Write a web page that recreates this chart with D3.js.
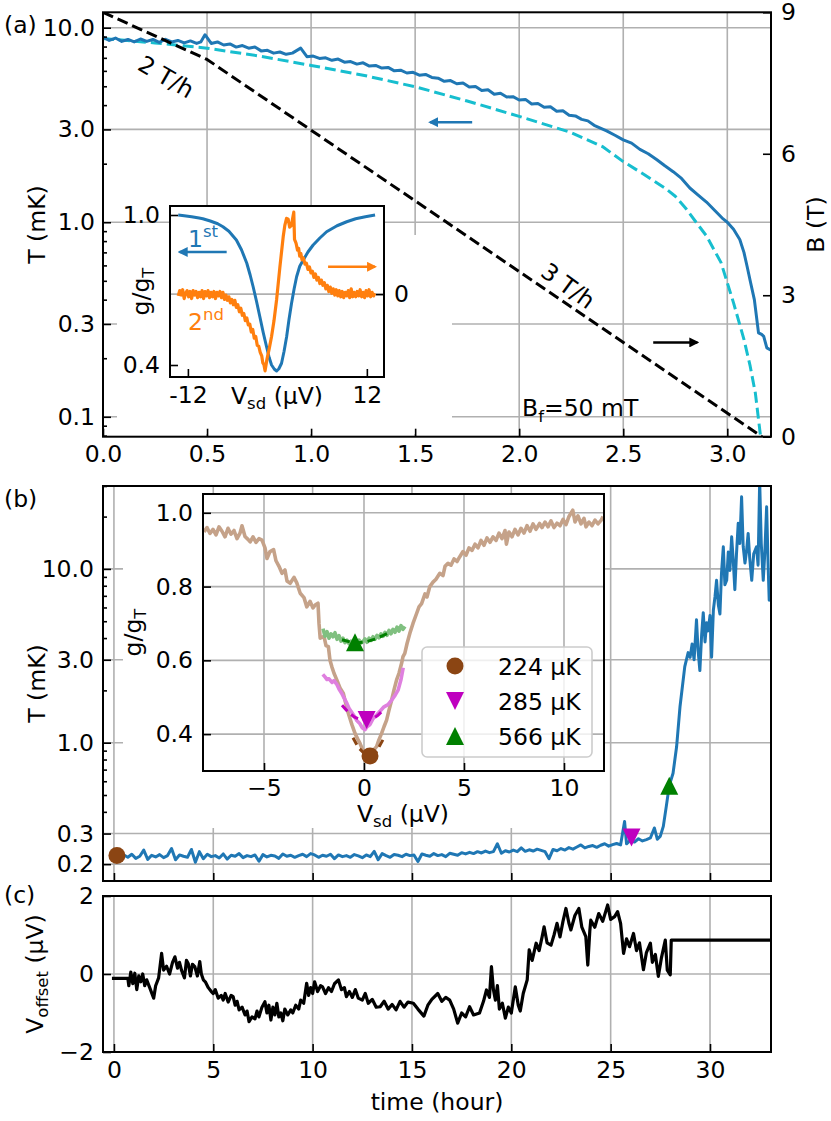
<!DOCTYPE html>
<html>
<head>
<meta charset="utf-8">
<script src="https://cdn.jsdelivr.net/npm/d3@7"></script>
<style>
  body { margin: 0; background: #fff; }
  text { font-family: "DejaVu Sans", sans-serif; }
</style>
</head>
<body>
<div id="figure"></div>
<script>
// ---------- data: panel (a), demagnetisation sweep ----------
const sweepData = [[0,8.95],[0.03,8.6],[0.06,8.85],[0.09,8.5],[0.12,8.7],[0.15,8.45],[0.18,8.75],[0.21,8.5],
  [0.24,8.7],[0.27,8.4],[0.3,8.72],[0.33,8.45],[0.36,8.6],[0.39,8.35],[0.42,8.55],[0.45,8.3],[0.47,8.45],
  [0.49,9.2],[0.52,8.3],[0.55,8.45],[0.58,8.15],[0.61,8.25],[0.64,7.95],[0.67,8.1],[0.7,7.85],[0.73,7.95],
  [0.76,7.6],[0.79,7.65],[0.82,7.4],[0.85,7.5],[0.88,7.3],[0.91,7.4],[0.95,7.85],[0.98,7.1],[1.01,7.15],
  [1.04,6.95],[1.07,7.0],[1.1,6.8],[1.13,6.9],[1.16,6.65],[1.19,6.7],[1.22,6.5],[1.25,6.6],[1.28,6.35],
  [1.31,6.4],[1.34,6.2],[1.37,6.25],[1.4,6.0],[1.43,6.05],[1.46,5.85],[1.49,5.9],[1.52,5.7],[1.55,5.75],
  [1.58,5.55],[1.61,5.5],[1.64,5.3],[1.67,5.35],[1.7,5.15],[1.73,5.2],[1.76,4.95],[1.79,4.98],[1.82,4.75],
  [1.85,4.8],[1.88,4.55],[1.91,4.6],[1.94,4.4],[1.97,4.42],[2.0,4.25],[2.03,4.28],[2.06,4.05],[2.09,4.08],
  [2.12,3.9],[2.15,3.92],[2.18,3.72],[2.21,3.74],[2.24,3.55],[2.27,3.52],[2.3,3.38],[2.33,3.32],[2.36,3.15],
  [2.39,3.05],[2.42,2.95],[2.46,2.8],[2.5,2.65],[2.54,2.55],[2.58,2.37],[2.62,2.25],[2.66,2.1],[2.7,1.95],
  [2.74,1.82],[2.78,1.68],[2.82,1.5],[2.86,1.38],[2.9,1.27],[2.94,1.15],[2.98,1.04],[3.0,1.0],[3.03,0.92],
  [3.06,0.815],[3.08,0.7],[3.095,0.594],[3.11,0.5],[3.13,0.40],[3.15,0.27],[3.165,0.265],[3.175,0.259],
  [3.19,0.226],[3.21,0.22]];
const modelData = [[0,8.8],[0.25,8.35],[0.5,7.85],[0.75,7.15],[1.0,6.4],[1.25,5.7],[1.5,4.97],[1.75,4.2],
  [2.0,3.5],[2.25,2.89],[2.4,2.45],[2.5,2.05],[2.6,1.76],[2.7,1.5],[2.75,1.36],[2.8,1.18],[2.85,1.0],
  [2.9,0.85],[2.97,0.62],[3.03,0.385],[3.08,0.25],[3.11,0.182],[3.135,0.132],[3.15,0.097],[3.16,0.079]];
const rampData = [[0,9],[0.5,8],[3.167,0]];

// inset (a): first and second derivative of the dip
const dipData = [[-13.3,1.0],[-12.5,0.997],[-11.5,0.993],[-10.5,0.988],[-10.0,0.985],[-9.0,0.976],[-8.0,0.965],
  [-7.3,0.953],[-6.5,0.935],[-5.5,0.90],[-4.8,0.86],[-4.1,0.807],[-3.65,0.76],[-3.25,0.713],[-2.8,0.655],
  [-2.35,0.593],[-1.9,0.53],[-1.45,0.473],[-1.1,0.43],[-0.78,0.40],[-0.4,0.383],[-0.1,0.376],[0.2,0.385],
  [0.56,0.407],[0.9,0.455],[1.24,0.513],[1.55,0.58],[1.9,0.647],[2.25,0.705],[2.58,0.753],[3.0,0.795],
  [3.47,0.82],[4.1,0.852],[4.8,0.88],[5.7,0.908],[6.6,0.933],[8.0,0.957],[9.3,0.973],[10.5,0.985],
  [11.8,0.993],[13.1,1.0]];
const d2Data = [[-13.3,-0.02],[-13.1,0.04],[-12.9,-0.01],[-12.7,0.05],[-12.5,-0.05],[-12.3,0.01],[-12.1,0.04],
  [-11.9,-0.03],[-11.7,0.03],[-11.5,-0.05],[-11.3,0.04],[-11.1,-0.01],[-10.9,0.03],[-10.7,-0.04],[-10.5,0.02],
  [-10.3,-0.03],[-10.1,0.04],[-9.9,-0.05],[-9.7,0.03],[-9.5,-0.02],[-9.3,0.04],[-9.1,-0.04],[-8.9,0.02],
  [-8.7,-0.03],[-8.5,0.03],[-8.3,-0.05],[-8.1,0.02],[-7.9,-0.02],[-7.7,0.03],[-7.5,-0.04],[-7.3,0.02],
  [-7.1,-0.06],[-6.9,-0.01],[-6.7,-0.07],[-6.5,-0.03],[-6.3,-0.10],[-6.1,-0.06],[-5.9,-0.12],[-5.7,-0.07],
  [-5.5,-0.15],[-5.3,-0.12],[-5.1,-0.20],[-4.9,-0.16],[-4.7,-0.24],[-4.5,-0.22],[-4.3,-0.30],[-4.1,-0.27],
  [-3.9,-0.35],[-3.7,-0.34],[-3.5,-0.43],[-3.3,-0.40],[-3.1,-0.50],[-2.9,-0.48],[-2.7,-0.58],[-2.5,-0.59],
  [-2.3,-0.66],[-2.1,-0.70],[-1.95,-0.78],[-1.8,-0.80],[-1.65,-0.87],[-1.4,-0.74],[-1.1,-0.62],[-0.78,-0.48],
  [-0.45,-0.30],[-0.1,-0.06],[0.34,0.31],[0.78,0.65],[1.0,0.78],[1.23,0.86],[1.45,0.85],[1.65,0.76],
  [1.9,0.78],[2.05,0.86],[2.2,0.93],[2.3,0.62],[2.5,0.58],[2.7,0.50],[2.85,0.52],[3.0,0.43],[3.15,0.46],
  [3.3,0.39],[3.5,0.41],[3.7,0.34],[3.9,0.35],[4.1,0.28],[4.3,0.31],[4.5,0.24],[4.7,0.26],[4.9,0.19],
  [5.1,0.23],[5.3,0.16],[5.5,0.19],[5.7,0.12],[5.9,0.16],[6.1,0.10],[6.3,0.13],[6.5,0.06],[6.7,0.10],
  [6.9,0.03],[7.1,0.08],[7.3,0.01],[7.5,0.06],[7.7,-0.01],[7.9,0.05],[8.1,-0.02],[8.3,0.04],[8.5,-0.03],
  [8.7,0.03],[8.9,-0.04],[9.1,0.02],[9.3,-0.02],[9.5,0.04],[9.7,-0.04],[9.9,0.06],[10.1,-0.03],[10.3,0.02],
  [10.5,-0.03],[10.7,0.03],[10.9,-0.02],[11.1,0.05],[11.3,-0.03],[11.5,0.02],[11.7,-0.04],[11.9,0.04],
  [12.1,-0.02],[12.3,0.05],[12.5,-0.03],[12.7,0.02],[12.9,-0.02],[13.1,0.01]];

// ---------- data: panel (b), temperature during the hold ----------
const holdData = [[0.1,0.224],[0.3,0.221],[0.5,0.226],[0.7,0.219],[0.9,0.228],[1.1,0.216],[1.3,0.222],
  [1.5,0.241],[1.7,0.213],[1.9,0.225],[2.1,0.220],[2.3,0.227],[2.5,0.218],[2.7,0.224],[2.9,0.246],[3.1,0.212],
  [3.3,0.226],[3.5,0.222],[3.7,0.219],[3.9,0.243],[4.1,0.205],[4.3,0.236],[4.5,0.215],[4.7,0.228],[4.9,0.221],
  [5.1,0.224],[5.3,0.217],[5.5,0.229],[5.7,0.214],[5.9,0.225],[6.1,0.222],[6.3,0.230],[6.5,0.218],[6.7,0.224],
  [6.9,0.221],[7.1,0.226],[7.3,0.208],[7.5,0.227],[7.7,0.220],[7.9,0.225],[8.1,0.223],[8.3,0.216],[8.5,0.229],
  [8.7,0.222],[8.9,0.225],[9.1,0.219],[9.3,0.224],[9.5,0.228],[9.7,0.221],[9.9,0.230],[10.1,0.226],[10.3,0.219],
  [10.5,0.225],[10.7,0.222],[10.9,0.228],[11.1,0.215],[11.3,0.226],[11.5,0.221],[11.7,0.224],[11.9,0.219],
  [12.1,0.227],[12.3,0.223],[12.5,0.218],[12.7,0.226],[12.9,0.221],[13.1,0.237],[13.3,0.212],[13.5,0.230],
  [13.7,0.224],[13.9,0.219],[14.1,0.227],[14.3,0.225],[14.5,0.221],[14.7,0.228],[14.9,0.224],[15.1,0.226],
  [15.3,0.207],[15.5,0.229],[15.7,0.225],[15.9,0.222],[16.1,0.230],[16.3,0.224],[16.5,0.227],[16.7,0.221],
  [16.9,0.231],[17.1,0.228],[17.3,0.225],[17.5,0.233],[17.7,0.229],[17.9,0.234],[18.1,0.230],[18.3,0.236],
  [18.5,0.232],[18.7,0.238],[18.9,0.233],[19.1,0.236],[19.3,0.262],[19.5,0.231],[19.7,0.239],[19.9,0.235],
  [20.1,0.241],[20.3,0.236],[20.5,0.248],[20.7,0.237],[20.9,0.242],[21.1,0.238],[21.3,0.244],[21.5,0.240],
  [21.7,0.236],[21.9,0.215],[22.1,0.243],[22.3,0.239],[22.5,0.246],[22.7,0.241],[22.9,0.249],[23.1,0.244],
  [23.3,0.251],[23.5,0.258],[23.7,0.248],[23.9,0.253],[24.1,0.256],[24.3,0.250],[24.5,0.257],[24.7,0.262],
  [24.9,0.254],[25.1,0.259],[25.3,0.263],[25.5,0.258],[25.7,0.352],[25.8,0.262],[26.0,0.275],[26.2,0.268],
  [26.4,0.280],[26.6,0.272],[26.8,0.277],[27.0,0.283],[27.2,0.323],[27.35,0.278],[27.5,0.290],[27.65,0.330],
  [27.8,0.43],[27.95,0.566],[28.14,0.667],[28.32,0.95],[28.49,1.61],[28.73,2.74],[28.9,3.3],[29.0,3.1],
  [29.1,3.7],[29.2,3.0],[29.32,5.1],[29.4,3.4],[29.49,2.6],[29.58,4.2],[29.66,5.6],[29.75,3.8],[29.83,4.9],
  [29.91,4.4],[30.0,5.4],[30.08,3.1],[30.17,5.8],[30.25,6.9],[30.33,8.6],[30.42,6.2],[30.5,5.5],[30.58,9.5],
  [30.67,13.4],[30.75,8.1],[30.84,8.6],[30.92,12.5],[31.0,9.8],[31.09,15.3],[31.17,11.2],[31.25,7.6],
  [31.33,12.0],[31.42,18.3],[31.5,14.0],[31.59,26.0],[31.67,13.5],[31.76,10.8],[31.84,12.7],[31.92,16.0],
  [32.0,11.5],[32.1,8.6],[32.2,12.2],[32.34,13.4],[32.42,10.5],[32.5,32],[32.58,14.0],[32.68,8.6],
  [32.76,12.5],[32.85,22.8],[32.92,11.0],[32.98,6.6],[33.05,9.0]];
const markerTime = [0.15, 26.05, 27.95];
const markerT = [0.224, 0.285, 0.566];
const legendLabels = ["224 µK", "285 µK", "566 µK"];

// inset (b): conductance dips at the three temperatures
const brownTrace = [[-8.0,0.948],[-7.85,0.960],[-7.7,0.944],[-7.55,0.955],[-7.4,0.940],[-7.25,0.962],[-7.1,0.950],
  [-6.95,0.935],[-6.8,0.958],[-6.65,0.942],[-6.5,0.952],[-6.35,0.930],[-6.2,0.945],[-6.1,0.965],[-5.95,0.936],
  [-5.8,0.928],[-5.69,0.921],[-5.55,0.935],[-5.4,0.920],[-5.25,0.930],[-5.1,0.926],[-4.95,0.905],[-4.85,0.876],
  [-4.7,0.895],[-4.52,0.90],[-4.4,0.870],[-4.25,0.855],[-4.1,0.836],[-3.95,0.845],[-3.85,0.815],[-3.69,0.809],
  [-3.5,0.825],[-3.36,0.810],[-3.19,0.782],[-3.0,0.770],[-2.86,0.745],[-2.7,0.760],[-2.55,0.742],[-2.44,0.750],
  [-2.3,0.755],[-2.25,0.700],[-2.19,0.660],[-2.0,0.665],[-1.9,0.640],[-1.78,0.637],[-1.7,0.600],[-1.61,0.583],
  [-1.5,0.565],[-1.36,0.547],[-1.2,0.525],[-1.03,0.51],[-0.9,0.480],[-0.78,0.456],[-0.6,0.425],[-0.45,0.402],
  [-0.3,0.385],[-0.2,0.375],[-0.05,0.355],[0.1,0.348],[0.3,0.345],[0.45,0.355],[0.63,0.366],[0.75,0.385],
  [0.88,0.402],[1.0,0.420],[1.13,0.438],[1.25,0.465],[1.38,0.492],[1.5,0.520],[1.63,0.547],[1.75,0.565],
  [1.88,0.592],[1.95,0.610],[2.04,0.619],[2.15,0.645],[2.29,0.673],[2.45,0.700],[2.63,0.727],[2.75,0.745],
  [2.88,0.754],[3.05,0.780],[3.15,0.772],[3.29,0.800],[3.45,0.812],[3.6,0.820],[3.79,0.836],[3.95,0.830],
  [4.05,0.855],[4.2,0.863],[4.35,0.858],[4.5,0.875],[4.65,0.868],[4.79,0.881],[4.95,0.895],[5.1,0.885],
  [5.25,0.905],[5.4,0.898],[5.55,0.915],[5.7,0.905],[5.85,0.925],[6.0,0.912],[6.15,0.932],[6.3,0.920],
  [6.45,0.935],[6.6,0.925],[6.75,0.945],[6.9,0.930],[7.05,0.952],[7.12,0.915],[7.25,0.948],[7.4,0.935],
  [7.55,0.955],[7.7,0.940],[7.85,0.958],[8.0,0.945],[8.15,0.965],[8.3,0.950],[8.45,0.970],[8.6,0.955],
  [8.78,0.971],[8.9,0.960],[9.05,0.975],[9.2,0.962],[9.35,0.978],[9.5,0.960],[9.65,0.972],[9.8,0.965],
  [9.95,0.982],[10.1,0.968],[10.25,0.990],[10.44,1.007],[10.55,0.975],[10.7,0.992],[10.85,0.970],[11.0,0.985],
  [11.1,0.962],[11.25,0.975],[11.4,0.965],[11.55,0.980],[11.7,0.970],[11.86,0.980],[11.95,0.990]];
const magentaTrace = [[-2.06,0.562],[-1.95,0.555],[-1.85,0.548],[-1.75,0.550],[-1.6,0.540],[-1.5,0.545],
  [-1.36,0.535],[-1.25,0.522],[-1.11,0.510],[-1.0,0.498],[-0.86,0.484],[-0.75,0.470],[-0.6,0.458],[-0.5,0.450],
  [-0.35,0.436],[-0.2,0.428],[-0.1,0.418],[0.05,0.412],[0.15,0.420],[0.3,0.426],[0.45,0.442],[0.63,0.452],
  [0.8,0.462],[1.0,0.474],[1.2,0.480],[1.38,0.492],[1.55,0.505],[1.71,0.520],[1.85,0.548],[1.96,0.580]];
const greenTrace = [[-2.05,0.686],[-1.95,0.665],[-1.85,0.678],[-1.75,0.660],[-1.65,0.672],[-1.55,0.664],
  [-1.45,0.675],[-1.35,0.657],[-1.25,0.667],[-1.15,0.652],[-1.05,0.660],[-0.95,0.648],[-0.85,0.655],
  [-0.75,0.645],[-0.65,0.652],[-0.55,0.643],[-0.45,0.650],[-0.35,0.646],[-0.25,0.655],[-0.15,0.647],
  [-0.05,0.651],[0.05,0.658],[0.15,0.649],[0.25,0.660],[0.35,0.654],[0.45,0.664],[0.55,0.657],[0.65,0.668],
  [0.75,0.661],[0.85,0.672],[0.95,0.665],[1.05,0.676],[1.15,0.668],[1.25,0.681],[1.35,0.672],[1.45,0.684],
  [1.55,0.676],[1.65,0.690],[1.75,0.679],[1.85,0.694],[1.95,0.684],[2.05,0.692]];
const brownFit = [[-0.55,0.39],[-0.3,0.365],[0,0.348],[0.3,0.341],[0.6,0.350],[0.95,0.385]];
const magentaFit = [[-1.1,0.478],[-0.8,0.46],[-0.5,0.447],[-0.2,0.44],[0.13,0.437],[0.45,0.442],[0.7,0.451],[0.95,0.465]];
const greenFit = [[-1.1,0.656],[-0.7,0.650],[-0.3,0.648],[0.1,0.650],[0.5,0.657],[0.9,0.666],[1.2,0.674]];
const fitMarkerV = [0.3, 0.13, -0.45];
const fitMarkerG = [0.341, 0.438, 0.649];

// ---------- data: panel (c), offset voltage ----------
const offsetData = [[-0.1,-0.11],[0.7,-0.11],[0.75,-0.3],[0.85,0.05],[0.95,-0.25],[1.05,0.02],[1.15,-0.4],
  [1.25,-0.05],[1.35,-0.2],[1.45,0.0],[1.55,-0.3],[1.65,-0.15],[1.8,-0.35],[2.0,-0.62],[2.1,-0.3],[2.25,-0.1],
  [2.4,0.53],[2.5,0.1],[2.65,0.2],[2.8,0.0],[2.95,0.3],[3.07,0.44],[3.2,0.15],[3.3,0.3],[3.4,0.1],[3.55,-0.1],
  [3.65,0.35],[3.74,0.27],[3.85,-0.05],[3.95,0.25],[4.07,0.19],[4.2,-0.05],[4.32,0.32],[4.4,0.0],[4.5,-0.15],
  [4.6,-0.2],[4.75,-0.35],[4.9,-0.45],[5.0,-0.5],[5.1,-0.4],[5.25,-0.62],[5.4,-0.55],[5.5,-0.67],[5.6,-0.5],
  [5.75,-0.72],[5.9,-0.55],[6.0,-0.58],[6.1,-0.8],[6.2,-0.7],[6.3,-0.92],[6.45,-0.85],[6.6,-1.05],[6.7,-0.95],
  [6.8,-1.22],[6.95,-1.1],[7.1,-1.15],[7.2,-0.95],[7.3,-1.1],[7.45,-0.85],[7.6,-0.71],[7.7,-1.0],[7.8,-0.8],
  [7.9,-1.18],[8.0,-0.85],[8.1,-1.05],[8.2,-0.75],[8.3,-1.1],[8.4,-1.0],[8.5,-1.2],[8.6,-0.9],[8.75,-1.05],
  [8.9,-0.92],[9.0,-1.0],[9.15,-0.8],[9.3,-0.9],[9.4,-0.67],[9.55,-0.75],[9.7,-0.24],[9.8,-0.55],[9.9,-0.35],
  [10.0,-0.5],[10.1,-0.2],[10.25,-0.45],[10.4,-0.3],[10.5,-0.33],[10.65,-0.5],[10.8,-0.35],[10.95,-0.45],
  [11.1,-0.25],[11.3,-0.15],[11.45,-0.4],[11.6,-0.35],[11.7,-0.58],[11.85,-0.45],[12.0,-0.6],[12.15,-0.4],
  [12.3,-0.62],[12.5,-0.67],[12.65,-0.5],[12.8,-0.75],[13.0,-0.65],[13.2,-0.85],[13.4,-0.84],[13.6,-0.7],
  [13.8,-0.9],[14.0,-0.78],[14.2,-0.92],[14.4,-0.7],[14.6,-0.85],[14.8,-0.72],[15.07,-0.75],[15.3,-0.9],
  [15.6,-1.08],[15.8,-0.8],[16.0,-0.65],[16.3,-0.5],[16.5,-0.7],[16.7,-0.6],[16.9,-0.67],[17.1,-0.9],
  [17.3,-1.26],[17.5,-1.0],[17.7,-1.1],[17.9,-0.84],[18.1,-1.05],[18.4,-1.0],[18.6,-0.7],[18.75,-0.41],
  [18.9,-0.6],[19.0,0.19],[19.1,-0.4],[19.2,-0.67],[19.3,-0.3],[19.4,-0.9],[19.55,-0.75],[19.7,-1.13],
  [19.85,-0.85],[20.0,-1.0],[20.2,-0.33],[20.35,-0.8],[20.45,-0.95],[20.6,-0.5],[20.8,-0.15],[20.9,0.62],
  [21.05,0.35],[21.25,0.79],[21.4,0.6],[21.55,0.95],[21.65,1.21],[21.8,0.8],[22.0,0.74],[22.15,1.0],[22.3,1.3],
  [22.45,0.95],[22.6,1.35],[22.75,1.68],[22.9,1.3],[23.0,1.13],[23.2,1.5],[23.4,1.68],[23.55,1.2],[23.75,0.96],
  [23.85,0.23],[23.95,1.1],[24.0,1.38],[24.2,1.2],[24.4,1.55],[24.6,1.35],[24.85,1.77],[25.0,1.4],[25.2,1.47],
  [25.35,1.6],[25.5,1.3],[25.65,0.53],[25.8,0.9],[25.95,0.7],[26.15,1.04],[26.3,0.6],[26.45,0.8],[26.65,0.11],
  [26.8,0.55],[27.0,0.79],[27.1,0.3],[27.25,0.5],[27.4,-0.06],[27.55,0.4],[27.75,0.87],[27.85,0.1],[28.0,-0.02],
  [28.05,0.87],[33.05,0.87]];

// ---------- tick values ----------
const aTimeTicks = [0, 0.5, 1, 1.5, 2, 2.5, 3];
const aTTicks = [0.1, 0.3, 1, 3, 10];
const aBTicks = [0, 3, 6, 9];
const insetAVTicks = [-12, 12];
const insetAGTicks = [0.4, 1.0];
const hourTicks = [0, 5, 10, 15, 20, 25, 30];
const bTTicks = [0.2, 0.3, 1, 3, 10];
const insetBVTicks = [-5, 0, 5, 10];
const insetBGTicks = [0.4, 0.6, 0.8, 1.0];
const cVTicks = [-2, 0, 2];

// ---------- style ----------
const fontSize = 23.5, subSize = 16.5;
const blue = "#1f77b4", orange = "#ff7f0e", cyan = "#17becf", gridColor = "#b0b0b0";
const markerColors = ["#8b4513", "#bf00bf", "#008000"];
const traceColors = ["#c5a289", "#df80df", "#80c080"];

const svg = d3.select("#figure").append("svg").attr("width", 831).attr("height", 1121);
const defs = svg.append("defs");

function clip(id, x, y) {
  const [x0, x1] = x.range(), [y0, y1] = y.range();
  defs.append("clipPath").attr("id", id).append("rect")
    .attr("x", x0).attr("y", y1).attr("width", x1 - x0).attr("height", y0 - y1);
}
function arrowHead(id, color) {
  defs.append("marker").attr("id", id).attr("viewBox", "0 0 10 10").attr("refX", 8).attr("refY", 5)
    .attr("markerWidth", 4).attr("markerHeight", 4).attr("orient", "auto")
    .append("path").attr("d", "M0,0L10,5L0,10z").attr("fill", color);
}
arrowHead("head-blue", blue);
arrowHead("head-orange", orange);
arrowHead("head-black", "#000");

function grid(g, x, y, xs, ys) {
  const [x0, x1] = x.range(), [y0, y1] = y.range();
  g.selectAll(null).data(xs).enter().append("line")
    .attr("x1", d => x(d)).attr("x2", d => x(d)).attr("y1", y0).attr("y2", y1)
    .attr("stroke", gridColor).attr("stroke-width", 1.6);
  g.selectAll(null).data(ys).enter().append("line")
    .attr("x1", x0).attr("x2", x1).attr("y1", d => y(d)).attr("y2", d => y(d))
    .attr("stroke", gridColor).attr("stroke-width", 1.6);
}
function frame(g, x, y) {
  const [x0, x1] = x.range(), [y0, y1] = y.range();
  g.append("rect").attr("x", x0).attr("y", y1).attr("width", x1 - x0).attr("height", y0 - y1)
    .attr("fill", "none").attr("stroke", "#000").attr("stroke-width", 2);
}
function styleAxis(sel) {
  sel.select(".domain").remove();
  sel.selectAll(".tick line").attr("stroke", "#000").attr("stroke-width", 1.6);
  sel.selectAll(".tick text").attr("font-size", fontSize).attr("font-family", "DejaVu Sans").attr("fill", "#000");
}
function minorTicks(scale, majors) {
  return scale.ticks().filter(t => !majors.some(m => Math.abs(m - t) / m < 1e-6));
}
// text with sub/superscript pieces: parts = [[text, shift]] (shift > 0 is subscript, < 0 superscript)
function richText(g, x, y, parts, opt = {}) {
  const t = g.append("text").attr("x", x).attr("y", y).attr("font-size", fontSize)
    .attr("fill", opt.color || "#000").attr("text-anchor", opt.anchor || "start");
  if (opt.transform) t.attr("transform", opt.transform);
  let cur = 0;
  parts.forEach(([s, shift]) => {
    const sp = t.append("tspan").text(s).attr("dy", shift - cur);
    if (shift !== 0) sp.attr("font-size", subSize);
    cur = shift;
  });
  return t;
}
function path(g, data, line, color, width, dash, clipId) {
  const p = g.append("path").attr("d", line(data)).attr("fill", "none").attr("stroke", color)
    .attr("stroke-width", width).attr("stroke-linejoin", "round");
  if (dash) p.attr("stroke-dasharray", dash);
  if (clipId) p.attr("clip-path", `url(#${clipId})`);
  return p;
}
const shapes = [
  d3.symbol().type(d3.symbolCircle).size(227)(),
  "M-9,-9L9,-9L0,9Z",
  "M0,-9L9,9L-9,9Z"
];

// ================= panel (a) =================
const xA = d3.scaleLinear().domain([0, 3.21]).range([103, 771]);
const yA = d3.scaleLog().domain([0.079, 12.0]).range([436.7, 12.3]);
const bA = d3.scaleLinear().domain([0, 9]).range([436.7, 12.3]);
clip("clipA", xA, yA);
const gA = svg.append("g");
grid(gA, xA, yA, aTimeTicks, aTTicks);
gA.append("rect").attr("x", 117).attr("y", 235).attr("width", 335).attr("height", 199).attr("fill", "#fff");

const lineAT = d3.line().x(d => xA(d[0])).y(d => yA(d[1]));
const lineAB = d3.line().x(d => xA(d[0])).y(d => bA(d[1]));
path(gA, modelData, lineAT, cyan, 3, "11,5", "clipA");
path(gA, sweepData, lineAT, blue, 3, null, "clipA");
path(gA, rampData, lineAB, "#000", 3, "11,5", "clipA");

gA.append("line").attr("x1", xA(1.774)).attr("x2", xA(1.572)).attr("y1", yA(3.27)).attr("y2", yA(3.27))
  .attr("stroke", blue).attr("stroke-width", 2.5).attr("marker-end", "url(#head-blue)");
gA.append("line").attr("x1", xA(2.644)).attr("x2", xA(2.856)).attr("y1", bA(2)).attr("y2", bA(2))
  .attr("stroke", "#000").attr("stroke-width", 2.5).attr("marker-end", "url(#head-black)");
gA.append("text").attr("transform", "translate(166,77) rotate(30)").attr("text-anchor", "middle")
  .attr("dominant-baseline", "central").attr("font-size", fontSize).text("2 T/h");
gA.append("text").attr("transform", "translate(568,286) rotate(36)").attr("text-anchor", "middle")
  .attr("dominant-baseline", "central").attr("font-size", fontSize).text("3 T/h");
richText(gA, 522, 416, [["B", 0], ["f", 6], ["=50 mT", 0]]);

gA.append("g").attr("transform", "translate(0,436.7)")
  .call(d3.axisBottom(xA).tickValues(aTimeTicks).tickSize(-8).tickPadding(9).tickFormat(d3.format(".1f")))
  .call(styleAxis);
gA.append("g").attr("transform", "translate(103,0)")
  .call(d3.axisLeft(yA).tickValues(aTTicks).tickSize(-8).tickPadding(8).tickFormat(d3.format(".1f")))
  .call(styleAxis);
gA.append("g").attr("transform", "translate(103,0)")
  .call(d3.axisLeft(yA).tickValues(minorTicks(yA, aTTicks)).tickSize(-4).tickFormat(""))
  .call(styleAxis);
gA.append("g").attr("transform", "translate(771,0)")
  .call(d3.axisRight(bA).tickValues(aBTicks).tickSize(-8).tickPadding(10).tickFormat(d3.format("d")))
  .call(styleAxis);
frame(gA, xA, yA);
gA.append("text").attr("transform", "translate(45,224.5) rotate(-90)").attr("text-anchor", "middle")
  .attr("font-size", fontSize).text("T (mK)");
gA.append("text").attr("transform", "translate(824,224.5) rotate(-90)").attr("text-anchor", "middle")
  .attr("font-size", fontSize).text("B (T)");
svg.append("text").attr("x", 4).attr("y", 33).attr("font-size", fontSize).text("(a)");

// ---- inset (a)
const xIa = d3.scaleLinear().domain([-14.4, 14.3]).range([170, 384]);
const yIa = d3.scaleLinear().domain([0.352, 1.036]).range([377, 206]);
const rIa = d3.scaleLinear().domain([-0.94, 1.0]).range([377, 206]);
const gIa = svg.append("g");
gIa.append("rect").attr("x", 170).attr("y", 206).attr("width", 214).attr("height", 171).attr("fill", "#fff");
gIa.append("line").attr("x1", 170).attr("x2", 384).attr("y1", rIa(0)).attr("y2", rIa(0))
  .attr("stroke", gridColor).attr("stroke-width", 1.6);
path(gIa, dipData, d3.line().x(d => xIa(d[0])).y(d => yIa(d[1])), blue, 3);
path(gIa, d2Data, d3.line().x(d => xIa(d[0])).y(d => rIa(d[1])), orange, 3.2);
gIa.append("g").attr("transform", "translate(0,377)")
  .call(d3.axisBottom(xIa).tickValues(insetAVTicks).tickSize(-8).tickPadding(9).tickFormat(d => String(d)))
  .call(styleAxis);
gIa.append("g").attr("transform", "translate(170,0)")
  .call(d3.axisLeft(yIa).tickValues(insetAGTicks).tickSize(-8).tickPadding(10).tickFormat(d3.format(".1f")))
  .call(styleAxis);
gIa.append("g").attr("transform", "translate(384,0)")
  .call(d3.axisRight(rIa).tickValues([0]).tickSize(-8).tickPadding(10).tickFormat(d3.format("d")))
  .call(styleAxis);
frame(gIa, xIa, yIa);
richText(gIa, 149, 291.5, [["g/g", 0], ["T", 5]], { anchor: "middle", transform: "rotate(-90,149,291.5)" });
richText(gIa, 277, 404, [["V", 0], ["sd", 5], [" (µV)", 0]], { anchor: "middle" });
richText(gIa, 188, 247, [["1", 0], ["st", -10]], { color: blue });
richText(gIa, 188, 330, [["2", 0], ["nd", -10]], { color: orange });
gIa.append("line").attr("x1", xIa(-6.8)).attr("x2", xIa(-13.1)).attr("y1", yIa(0.852)).attr("y2", yIa(0.852))
  .attr("stroke", blue).attr("stroke-width", 2.5).attr("marker-end", "url(#head-blue)");
gIa.append("line").attr("x1", xIa(6.8)).attr("x2", xIa(13.1)).attr("y1", rIa(0.31)).attr("y2", rIa(0.31))
  .attr("stroke", orange).attr("stroke-width", 2.5).attr("marker-end", "url(#head-orange)");

// ================= panel (b) =================
const xB = d3.scaleLinear().domain([-0.55, 33.07]).range([103, 771]);
const yB = d3.scaleLog().domain([0.16, 30]).range([881, 486]);
clip("clipB", xB, yB);
const gB = svg.append("g");
grid(gB, xB, yB, hourTicks, bTTicks);
gB.append("rect").attr("x", 123).attr("y", 494).attr("width", 481).attr("height", 334).attr("fill", "#fff");
path(gB, holdData, d3.line().x(d => xB(d[0])).y(d => yB(d[1])), blue, 3, null, "clipB");
gB.selectAll(null).data(markerTime).enter().append("path")
  .attr("d", (d, i) => shapes[i])
  .attr("transform", (d, i) => `translate(${xB(d)},${yB(markerT[i])})`)
  .attr("fill", (d, i) => markerColors[i]);
gB.append("g").attr("transform", "translate(0,881)")
  .call(d3.axisBottom(xB).tickValues(hourTicks).tickSize(-8).tickFormat(""))
  .call(styleAxis);
gB.append("g").attr("transform", "translate(103,0)")
  .call(d3.axisLeft(yB).tickValues(bTTicks).tickSize(-8).tickPadding(9).tickFormat(d3.format(".1f")))
  .call(styleAxis);
gB.append("g").attr("transform", "translate(103,0)")
  .call(d3.axisLeft(yB).tickValues(minorTicks(yB, bTTicks)).tickSize(-4).tickFormat(""))
  .call(styleAxis);
frame(gB, xB, yB);
gB.append("text").attr("transform", "translate(45,683.5) rotate(-90)").attr("text-anchor", "middle")
  .attr("font-size", fontSize).text("T (mK)");
svg.append("text").attr("x", 4).attr("y", 507).attr("font-size", fontSize).text("(b)");

// ---- inset (b)
const xIb = d3.scaleLinear().domain([-8.05, 12.0]).range([203, 604]);
const yIb = d3.scaleLinear().domain([0.30, 1.051]).range([771, 494]);
clip("clipIb", xIb, yIb);
const gIb = svg.append("g");
gIb.append("rect").attr("x", 203).attr("y", 494).attr("width", 401).attr("height", 277).attr("fill", "#fff");
grid(gIb, xIb, yIb, insetBVTicks, insetBGTicks);
const lineIb = d3.line().x(d => xIb(d[0])).y(d => yIb(d[1]));
path(gIb, brownTrace, lineIb, traceColors[0], 3.6, null, "clipIb");
path(gIb, magentaTrace, lineIb, traceColors[1], 3.6, null, "clipIb");
path(gIb, greenTrace, lineIb, traceColors[2], 3.6, null, "clipIb");
path(gIb, brownFit, lineIb, markerColors[0], 3, "8,5", "clipIb");
path(gIb, magentaFit, lineIb, markerColors[1], 3, "8,5", "clipIb");
path(gIb, greenFit, lineIb, markerColors[2], 3, "8,5", "clipIb");
gIb.selectAll(null).data(fitMarkerV).enter().append("path")
  .attr("d", (d, i) => shapes[i])
  .attr("transform", (d, i) => `translate(${xIb(d)},${yIb(fitMarkerG[i])})`)
  .attr("fill", (d, i) => markerColors[i]);
gIb.append("g").attr("transform", "translate(0,771)")
  .call(d3.axisBottom(xIb).tickValues(insetBVTicks).tickSize(-8).tickPadding(8).tickFormat(d3.format("d")))
  .call(styleAxis);
gIb.append("g").attr("transform", "translate(203,0)")
  .call(d3.axisLeft(yIb).tickValues(insetBGTicks).tickSize(-8).tickPadding(10).tickFormat(d3.format(".1f")))
  .call(styleAxis);
frame(gIb, xIb, yIb);
richText(gIb, 141, 632.5, [["g/g", 0], ["T", 5]], { anchor: "middle", transform: "rotate(-90,141,632.5)" });
richText(gIb, 403, 822, [["V", 0], ["sd", 5], [" (µV)", 0]], { anchor: "middle" });

// legend
const leg = gIb.append("g");
leg.append("rect").attr("x", 422).attr("y", 647).attr("width", 170).attr("height", 110).attr("rx", 5)
  .attr("fill", "#fff").attr("fill-opacity", 0.8).attr("stroke", "#cccccc").attr("stroke-width", 1.6);
legendLabels.forEach((lab, i) => {
  const yRow = 666 + i * 35;
  leg.append("path").attr("d", shapes[i]).attr("transform", `translate(455,${yRow})`).attr("fill", markerColors[i]);
  leg.append("text").attr("x", 498).attr("y", yRow + 8.5).attr("font-size", fontSize).text(lab);
});

// ================= panel (c) =================
const xC = d3.scaleLinear().domain([-0.55, 33.07]).range([103, 771]);
const yC = d3.scaleLinear().domain([-2, 2]).range([1052, 896]);
clip("clipC", xC, yC);
const gC = svg.append("g");
grid(gC, xC, yC, hourTicks, cVTicks);
path(gC, offsetData, d3.line().x(d => xC(d[0])).y(d => yC(d[1])), "#000", 3.2, null, "clipC");
gC.append("g").attr("transform", "translate(0,1052)")
  .call(d3.axisBottom(xC).tickValues(hourTicks).tickSize(-8).tickPadding(9).tickFormat(d3.format("d")))
  .call(styleAxis);
gC.append("g").attr("transform", "translate(103,0)")
  .call(d3.axisLeft(yC).tickValues(cVTicks).tickSize(-8).tickPadding(9).tickFormat(d3.format("d")))
  .call(styleAxis);
frame(gC, xC, yC);
richText(gC, 43, 974, [["V", 0], ["offset", 5], [" (µV)", 0]], { anchor: "middle", transform: "rotate(-90,43,974)" });
gC.append("text").attr("x", 437).attr("y", 1110).attr("text-anchor", "middle").attr("font-size", fontSize)
  .text("time (hour)");
svg.append("text").attr("x", 4).attr("y", 903).attr("font-size", fontSize).text("(c)");
</script>
</body>
</html>
